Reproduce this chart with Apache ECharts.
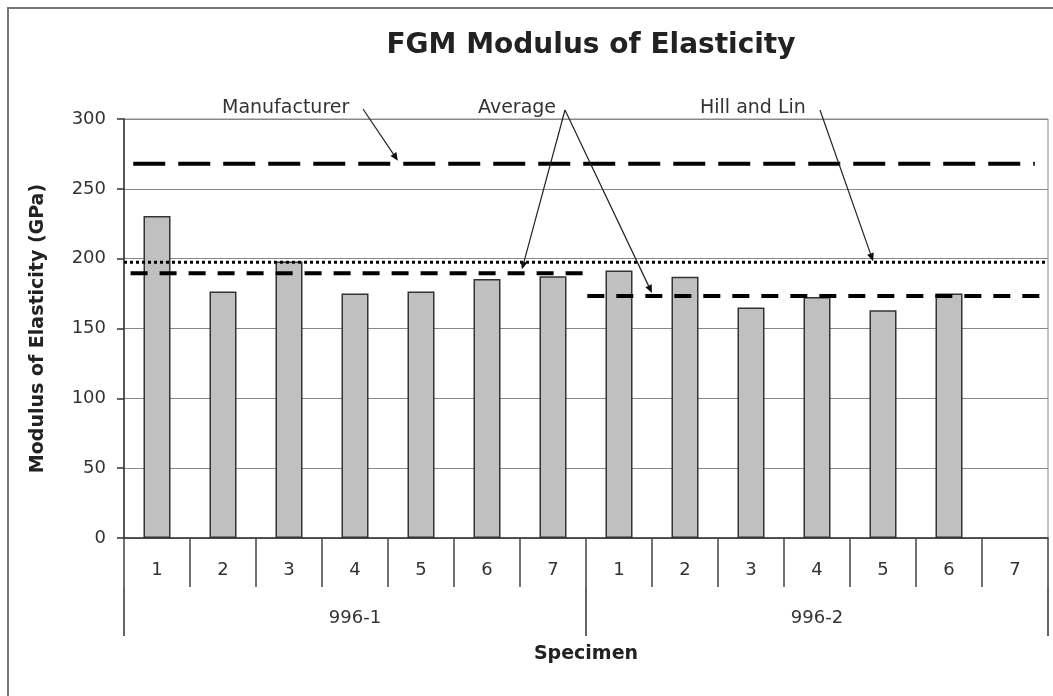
<!DOCTYPE html>
<html>
<head>
<meta charset="utf-8">
<title>FGM Modulus of Elasticity</title>
<script src="https://cdn.jsdelivr.net/npm/echarts@6/dist/echarts.min.js"></script>
<style>
  html, body { margin: 0; padding: 0; background: #fff; }
  #chart { width: 1053px; height: 696px; }
</style>
</head>
<body>
<div id="chart"></div>
<script>
// Data
const specimens = ['1', '2', '3', '4', '5', '6', '7', '1', '2', '3', '4', '5', '6', '7']
const groups = ['996-1', '996-2']
const modulus = [230.5, 176.5, 198, 175, 176.5, 185.5, 187.5, 191.5, 187, 165, 172.5, 163, 175, null]

// reference lines: [x (category units), value]
const manufacturerLine = [[0.14, 268], [13.8, 268]]
const hillLinLine = [[0, 197.5], [14, 197.5]]
const average1Line = [[0.1, 189.5], [7, 189.5]]
const average2Line = [[7.02, 173.2], [14, 173.2]]

const yTicks = { min: 0, max: 300, interval: 50 }

const FONT = 'DejaVu Sans'
const TEXT = '#333'

const chart = echarts.init(document.getElementById('chart'))

const refLine = (name, data, type, width) => ({
  name,
  type: 'line',
  xAxisIndex: 2,
  data,
  symbol: 'none',
  silent: true,
  z: 5,
  lineStyle: { color: '#000', width, type, cap: 'butt' }
})

chart.setOption({
  animation: false,
  backgroundColor: '#fff',
  textStyle: { fontFamily: FONT },
  title: {
    text: 'FGM Modulus of Elasticity',
    left: 586,
    top: 27,
    textAlign: 'center',
    textStyle: { fontFamily: FONT, fontSize: 28, fontWeight: 'bold', color: '#222' }
  },
  grid: {
    left: 124,
    right: 5,
    top: 119,
    bottom: 158,
    show: true,
    borderColor: '#888',
    borderWidth: 1
  },
  xAxis: [
    {
      type: 'category',
      data: specimens,
      boundaryGap: true,
      axisLine: { lineStyle: { color: '#333', width: 1.5 } },
      axisTick: { show: true, interval: 0, length: 49, lineStyle: { color: '#444', width: 1.5 } },
      axisLabel: { interval: 0, margin: 23, fontSize: 18, color: TEXT, fontFamily: FONT },
      name: 'Specimen',
      nameLocation: 'middle',
      nameGap: 107,
      nameTextStyle: { fontSize: 19, fontWeight: 'bold', color: '#222', fontFamily: FONT },
      splitLine: { show: false }
    },
    {
      type: 'category',
      data: groups,
      position: 'bottom',
      offset: 49,
      boundaryGap: true,
      axisLine: { show: false },
      axisTick: { show: true, interval: 0, length: 49, lineStyle: { color: '#333', width: 1.5 } },
      axisLabel: { interval: 0, margin: 22, fontSize: 18, color: TEXT, fontFamily: FONT },
      splitLine: { show: false }
    },
    {
      type: 'value',
      min: 0,
      max: 14,
      show: false
    }
  ],
  yAxis: {
    type: 'value',
    min: yTicks.min,
    max: yTicks.max,
    interval: yTicks.interval,
    name: 'Modulus of Elasticity (GPa)',
    nameLocation: 'middle',
    nameGap: 76,
    nameTextStyle: { fontSize: 19, fontWeight: 'bold', color: '#222', fontFamily: FONT },
    axisLine: { show: true, lineStyle: { color: '#333', width: 1.5 } },
    axisTick: { show: true, length: 7, lineStyle: { color: '#333', width: 1.5 } },
    axisLabel: { margin: 18, fontSize: 18, color: TEXT, fontFamily: FONT },
    splitLine: { show: true, lineStyle: { color: '#888', width: 1 } }
  },
  series: [
    {
      name: 'Modulus',
      type: 'bar',
      xAxisIndex: 0,
      data: modulus,
      barWidth: 27,
      itemStyle: { color: '#c0c0c0', borderColor: '#333', borderWidth: 1.5 },
      z: 2
    },
    refLine('Manufacturer', manufacturerLine, [32, 13], 4),
    refLine('Hill and Lin', hillLinLine, [3, 3], 3),
    refLine('Average 996-1', average1Line, [17, 12], 4),
    refLine('Average 996-2', average2Line, [17, 12], 4)
  ]
})

// Annotations with arrows pointing at the reference lines
const toPx = (x, v) => chart.convertToPixel({ xAxisIndex: 2, yAxisIndex: 0 }, [x, v])

const arrow = (from, to) => {
  const dx = to[0] - from[0]
  const dy = to[1] - from[1]
  const len = Math.sqrt(dx * dx + dy * dy)
  const ux = dx / len
  const uy = dy / len
  const head = 8
  const half = 3.5
  const bx = to[0] - ux * head
  const by = to[1] - uy * head
  return [
    {
      type: 'line',
      shape: { x1: from[0], y1: from[1], x2: bx, y2: by },
      style: { stroke: '#222', lineWidth: 1.2 },
      z: 10
    },
    {
      type: 'polygon',
      shape: {
        points: [
          to,
          [bx - uy * half, by + ux * half],
          [bx + uy * half, by - ux * half]
        ]
      },
      style: { fill: '#111' },
      z: 10
    }
  ]
}

const label = (text, x, y) => ({
  type: 'text',
  x,
  y,
  style: {
    text,
    fontFamily: FONT,
    fontSize: 19,
    fill: TEXT,
    textAlign: 'left',
    textVerticalAlign: 'middle'
  },
  z: 10
})

const manTip = toPx(4.15, manufacturerLine[0][1])
const avg1Tip = toPx(6.03, average1Line[0][1])
const avg2Tip = toPx(8.0, average2Line[0][1])
const hillTip = toPx(11.35, hillLinLine[0][1])

chart.setOption({
  graphic: [
    {
      type: 'polyline',
      shape: { points: [[8, 720], [8, 8], [1080, 8]] },
      style: { stroke: '#777', lineWidth: 2, fill: null },
      silent: true
    },
    label('Manufacturer', 222, 108),
    label('Average', 478, 108),
    label('Hill and Lin', 700, 108),
    ...arrow([363, 109], [manTip[0], manTip[1] - 3]),
    ...arrow([565, 110], [avg1Tip[0], avg1Tip[1] - 4]),
    ...arrow([565, 110], [avg2Tip[0], avg2Tip[1] - 3]),
    ...arrow([820, 110], [hillTip[0], hillTip[1] - 1])
  ]
})
</script>
</body>
</html>
